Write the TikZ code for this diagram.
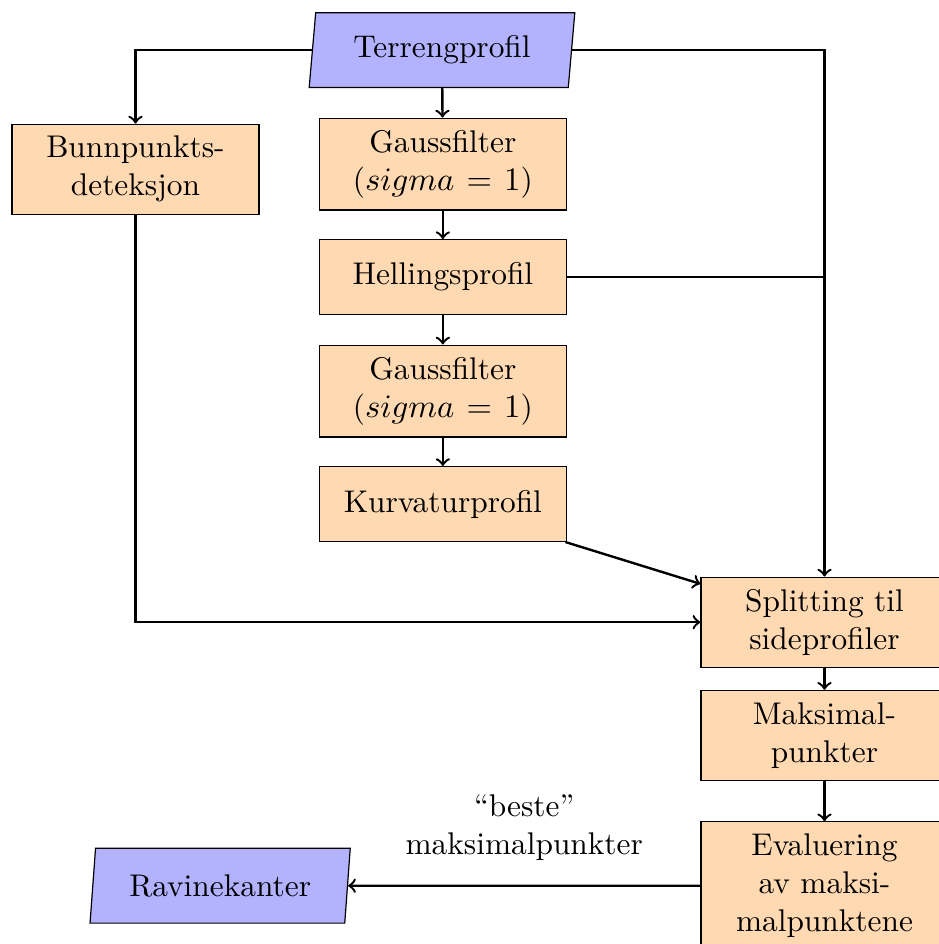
\documentclass[tikz,border=0pt]{standalone}
\usepackage{amsmath}
\usetikzlibrary{shapes.geometric,arrows,positioning}
\tikzstyle{stage} = [draw,rectangle,fill=orange!30,text width=2.62cm,align=center,minimum width=2.906cm,minimum height=0.88cm,inner sep=4pt]
\tikzstyle{data} = [draw,trapezium,trapezium left angle=84,trapezium right angle=96,trapezium stretches=true,fill=blue!30,minimum height=0.88cm]
\tikzstyle{flow} = [->,thick]
\tikzstyle{merge} = [-,thick]

\begin{document}
\begin{tikzpicture}[font=\fontsize{10.5}{12.7}\selectfont]
      \useasboundingbox (0,0) rectangle (11.047,-11.106);
      \clip (0,0) rectangle (11.047,-11.106);
      \node[data,minimum width=3.13cm] (terreng) at (5.20,-0.59) {Terrengprofil};
      \node[stage] (gauss1) at (5.21,-1.93) {Gaussfilter\\($sigma=1$)};
      \node[stage] (helling) at (5.21,-3.26) {Hellingsprofil};
      \node[stage] (gauss2) at (5.21,-4.60) {Gaussfilter\\($sigma=1$)};
      \node[stage] (kurvatur) at (5.21,-5.93) {Kurvaturprofil};
      \node[stage] (bunn) at (1.594,-1.99) {Bunnpunkts-\\deteksjon};
      \node[stage] (split) at (9.70,-7.32) {Splitting til\\sideprofiler};
      \node[stage] (maks) at (9.70,-8.65) {Maksimal-\\punkter};
      \node[stage] (eval) at (9.70,-10.42) {Evaluering\\av maksi-\\malpunktene};
      \node[data,minimum width=3.08cm] (ravine) at (2.59,-10.42) {Ravinekanter};
      \coordinate (knot) at (helling.east -| split.north);
      \draw[flow] (terreng.west) -| (bunn.north);
      \draw[flow] (terreng.east) -| (split.north);
      \draw[flow] (terreng) -- (gauss1);
      \draw[flow] (gauss1) -- (helling);
      \draw[flow] (helling) -- (gauss2);
      \draw[flow] (gauss2) -- (kurvatur);
      \draw[merge] (helling.east) -- (knot);
      \draw[flow] (kurvatur) -- (split);
      \draw[flow] (bunn.south) |- (split.west);
      \draw[flow] (split) -- (maks);
      \draw[flow] (maks) -- (eval);
      \draw[flow] (eval) -- (ravine) node[midway,above,align=center,inner sep=8pt]{``beste''\\maksimalpunkter};
    \end{tikzpicture}
\end{document}
